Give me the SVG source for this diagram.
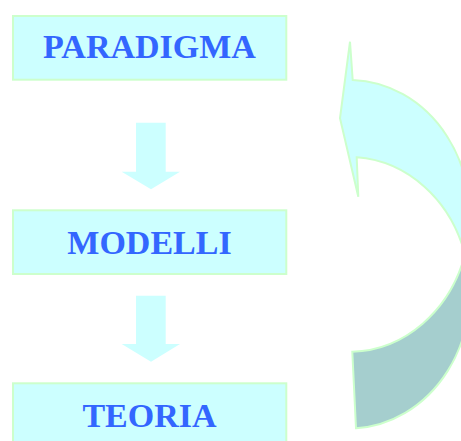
<svg xmlns="http://www.w3.org/2000/svg" width="461" height="441" viewBox="0 0 461 441">
<style>
.box{fill:#CCFFFF;stroke:#CCFFCC;stroke-width:2}
.lbl{font-family:"Liberation Serif","Times New Roman",serif;font-weight:bold;font-size:34px;fill:#3366FF;text-anchor:middle}
.arr{fill:#CCFFFF;stroke:none}
.cv{stroke:#CCFFCC;stroke-width:2;stroke-linejoin:miter}
</style>
<rect width="461" height="441" fill="#FFFFFF"/>
<g id="connectors">
<path class="arr" d="M136 122.7 H165.7 V171.7 H180 L151 189.3 L121.7 171.7 H136 Z"/>
<path class="arr" d="M136 295.7 H165.7 V344 H180 L151 361.7 L121.7 344 H136 Z"/>
<g id="cycle">
<path class="cv" fill="#A5CECE" d="M465 254.5 A121 136 0 0 1 356 428.3 L352.3 351.7 A121 136 0 0 0 465 254.5 Z"/>
<path class="cv" fill="#CCFFFF" d="M352.7 80 A121 136 0 0 1 465 254.5 A121 136 0 0 0 356.7 157.3 L358.3 196.7 L340 118.3 L350 41.7 Z"/>
</g>
</g>
<g id="paradigma">
<rect class="box" x="13" y="16" width="273.3" height="63.7"/>
<text class="lbl" x="149.5" y="58.3">PARADIGMA</text>
</g>
<g id="modelli">
<rect class="box" x="13" y="210.3" width="273.3" height="63.7"/>
<text class="lbl" x="149.5" y="254">MODELLI</text>
</g>
<g id="teoria">
<rect class="box" x="13" y="383.3" width="273.3" height="63.7"/>
<text class="lbl" x="149.5" y="426.7">TEORIA</text>
</g>
</svg>
